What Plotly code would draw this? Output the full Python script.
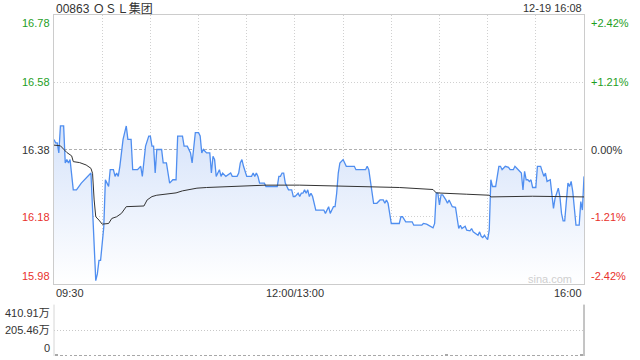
import plotly.graph_objects as go

# ---------------- data ----------------
title_text = "00863 ＯＳＬ集团"
stamp_text = "12-19 16:08"
prev_close = 16.38
price_ticks = [16.78, 16.58, 16.38, 16.18, 15.98]
pct_ticks = ["+2.42%", "+1.21%", "0.00%", "-1.21%", "-2.42%"]
time_labels = ["09:30", "12:00/13:00", "16:00"]
time_label_pos = [0, 150, 330]          # trading minutes after 09:30 (lunch removed)
vol_ticks = [4109100, 2054550, 0]
vol_tick_text = ["410.91万", "205.46万", "0"]

# price line: (trading minute, price)
price_min = [0, 1, 2, 3, 4, 6, 7, 8, 9, 10, 12, 14, 17, 21, 23, 26, 27, 28, 29, 31,
             32, 33, 34, 35, 37, 38, 39, 40, 41, 43, 45, 46, 48, 49, 52, 54, 55, 57, 59, 60,
             61, 62, 63, 64, 67, 68, 70, 72, 74, 76, 77, 80, 81, 83, 85, 86, 88, 90, 91, 92,
             93, 95, 97, 98, 99, 100, 101, 102, 103, 104, 105, 107, 110, 111, 114, 115, 116, 117, 118, 120,
             123, 124, 125, 126, 127, 128, 131, 132, 139, 140, 141, 142, 143, 144, 145, 146, 148, 149, 150, 152,
             153, 154, 155, 156, 157, 158, 159, 160, 161, 163, 168, 169, 171, 172, 173, 174, 175, 176, 177, 178,
             180, 181, 182, 187, 188, 194, 195, 196, 197, 199, 201, 203, 205, 206, 207, 208, 209, 210, 215, 216,
             217, 218, 219, 223, 224, 229, 230, 232, 234, 236, 237, 238, 239, 240, 241, 242, 244, 245, 246, 248,
             250, 251, 252, 253, 254, 256, 257, 259, 260, 261, 263, 264, 265, 266, 267, 268, 269, 270, 271, 272,
             273, 275, 276, 277, 278, 279, 280, 281, 283, 284, 286, 287, 288, 290, 291, 292, 293, 294, 295, 296,
             297, 298, 300, 301, 303, 304, 305, 306, 307, 309, 310, 311, 312, 314, 315, 316, 317, 318, 319, 320,
             321, 322, 323, 324, 325, 327, 328, 329, 330]
price_val = [16.41, 16.40, 16.40, 16.37, 16.45, 16.45, 16.34, 16.35, 16.34, 16.35, 16.26, 16.26, 16.28, 16.30, 16.31, 15.99, 16.01, 16.05, 16.05, 16.15,
             16.29, 16.28, 16.27, 16.32, 16.32, 16.30, 16.31, 16.30, 16.33, 16.41, 16.45, 16.41, 16.41, 16.32, 16.32, 16.33, 16.30, 16.39, 16.42, 16.42,
             16.39, 16.39, 16.31, 16.38, 16.38, 16.34, 16.34, 16.28, 16.29, 16.29, 16.42, 16.42, 16.39, 16.39, 16.37, 16.34, 16.43, 16.43, 16.42, 16.37,
             16.38, 16.37, 16.37, 16.31, 16.36, 16.35, 16.30, 16.31, 16.32, 16.30, 16.31, 16.30, 16.31, 16.30, 16.30, 16.31, 16.34, 16.35, 16.33, 16.30,
             16.30, 16.31, 16.30, 16.31, 16.30, 16.28, 16.28, 16.27, 16.27, 16.30, 16.30, 16.31, 16.31, 16.28, 16.27, 16.26, 16.26, 16.24, 16.24, 16.25,
             16.24, 16.25, 16.25, 16.26, 16.25, 16.26, 16.24, 16.25, 16.24, 16.20, 16.20, 16.19, 16.21, 16.19, 16.20, 16.21, 16.21, 16.25, 16.31, 16.34,
             16.35, 16.34, 16.33, 16.33, 16.32, 16.32, 16.33, 16.32, 16.29, 16.22, 16.22, 16.23, 16.23, 16.22, 16.23, 16.22, 16.19, 16.16, 16.16, 16.18,
             16.18, 16.17, 16.165, 16.165, 16.155, 16.155, 16.16, 16.158, 16.152, 16.147, 16.16, 16.25, 16.25, 16.215, 16.245, 16.245, 16.23, 16.22, 16.23, 16.21,
             16.208, 16.18, 16.145, 16.155, 16.145, 16.152, 16.14, 16.138, 16.145, 16.135, 16.13, 16.125, 16.135, 16.122, 16.118, 16.125, 16.118, 16.112, 16.14, 16.29,
             16.27, 16.27, 16.30, 16.33, 16.33, 16.32, 16.325, 16.33, 16.327, 16.32, 16.32, 16.33, 16.325, 16.315, 16.31, 16.26, 16.315, 16.29, 16.29, 16.285,
             16.29, 16.267, 16.267, 16.33, 16.33, 16.315, 16.30, 16.31, 16.285, 16.29, 16.24, 16.205, 16.235, 16.265, 16.24, 16.19, 16.168, 16.168, 16.225, 16.28,
             16.27, 16.285, 16.255, 16.20, 16.155, 16.155, 16.225, 16.20, 16.30]

# average price line: (trading minute, price)
avg_min = [0, 4, 6, 8, 11, 12, 16, 20, 23, 24, 25, 26, 28, 30, 34, 36, 39, 42, 45, 49,
           56, 58, 61, 64, 70, 76, 80, 85, 89, 95, 116, 132, 153, 174, 195, 215, 236, 238, 257, 271,
           272, 298, 330]
avg_val = [16.393, 16.391, 16.381, 16.371, 16.361, 16.344, 16.341, 16.334, 16.324, 16.309, 16.23, 16.18, 16.17, 16.158, 16.16, 16.175, 16.18, 16.19, 16.21, 16.21,
           16.212, 16.23, 16.24, 16.244, 16.247, 16.251, 16.257, 16.261, 16.265, 16.267, 16.271, 16.274, 16.274, 16.271, 16.269, 16.267, 16.261, 16.251, 16.247, 16.244,
           16.239, 16.241, 16.239]

# volume bars (one per 3 trading minutes), shares
volume = [90000, 60000, 70000, 50000, 80000, 60000, 50000, 70000, 60000, 50000,
          60000, 70000, 50000, 60000, 50000, 60000, 70000, 50000, 60000, 50000,
          60000, 50000, 70000, 60000, 50000, 60000, 50000, 60000, 70000, 50000,
          60000, 50000, 60000, 70000, 50000, 60000, 50000, 60000, 50000, 70000,
          60000, 50000, 60000, 50000, 70000, 60000, 50000, 60000, 50000, 60000,
          70000, 50000, 60000, 50000, 60000, 70000, 50000, 60000, 50000, 60000,
          50000, 70000, 60000, 50000, 60000, 50000, 70000, 60000, 50000, 60000,
          50000, 60000, 70000, 50000, 60000, 50000, 60000, 70000, 50000, 60000,
          50000, 110000, 60000, 50000, 60000, 70000, 50000, 60000, 50000, 60000,
          70000, 50000, 60000, 50000, 60000, 70000, 50000, 60000, 50000, 60000,
          70000, 50000, 60000, 50000, 60000, 70000, 50000, 60000, 70000, 90000]
vol_min = [3 * i + 1.5 for i in range(len(volume))]

# ---------------- styling ----------------
W, H = 640, 360
X0, X1 = 54, 584          # plot area in pixels
MT, MB = 15, 284          # main panel top / bottom
VT, VB = 304, 356         # volume panel top / bottom
FONT = "Liberation Sans, Arial, Noto Sans CJK SC, sans-serif"
GREEN, RED, DARK = "#1e9e1e", "#e8312c", "#333333"
label_colors = [GREEN, GREEN, DARK, RED, RED]

fig = go.Figure()

fig.add_trace(go.Scatter(
    x=price_min, y=price_val, mode="lines",
    line=dict(color="#4f8ef0", width=1.3),
    fill="tozeroy",
    fillgradient=dict(type="vertical",
                      colorscale=[[0, "rgba(255,255,255,1)"], [1, "rgba(214,227,250,1)"]],
                      start=15.98, stop=16.45),
    xaxis="x", yaxis="y", hoverinfo="skip", showlegend=False))

fig.add_trace(go.Scatter(
    x=avg_min, y=avg_val, mode="lines",
    line=dict(color="#333333", width=1),
    xaxis="x", yaxis="y", hoverinfo="skip", showlegend=False))

fig.add_trace(go.Bar(
    x=vol_min, y=volume, width=1.6, marker=dict(color="#a8a8a8", line=dict(width=0)),
    xaxis="x2", yaxis="y2", hoverinfo="skip", showlegend=False))

grid_x = list(range(30, 330, 30))
fig.update_layout(
    width=W, height=H,
    margin=dict(l=0, r=0, t=0, b=0),
    paper_bgcolor="white", plot_bgcolor="white",
    font=dict(family=FONT, size=11, color=DARK),
    bargap=0,
    xaxis=dict(domain=[X0 / W, X1 / W], range=[0, 330], anchor="y",
               tickvals=grid_x, showticklabels=False, ticks="",
               showgrid=True, gridcolor="#d0d0d0", griddash="1px,2px", gridwidth=1,
               showline=True, linecolor="#cccccc", linewidth=1, mirror=True, zeroline=False),
    yaxis=dict(domain=[1 - MB / H, 1 - MT / H], range=[15.98, 16.78], anchor="x",
               tickvals=[16.58, 16.18], showticklabels=False, ticks="",
               showgrid=True, gridcolor="#d0d0d0", griddash="1px,2px", gridwidth=1,
               showline=True, linecolor="#cccccc", linewidth=1, mirror=True, zeroline=False),
    xaxis2=dict(domain=[X0 / W, X1 / W], range=[0, 330], anchor="y2",
                showticklabels=False, ticks="", showgrid=False, showline=False, zeroline=False),
    yaxis2=dict(domain=[1 - VB / H, 1 - VT / H], range=[0, vol_ticks[0] * 1.012], anchor="x2",
                tickvals=vol_ticks[:2], showticklabels=False, ticks="",
                showgrid=True, gridcolor="#c8c8c8", griddash="1px,2px", gridwidth=1,
                showline=False, zeroline=False),
)

shapes = [
    dict(type="line", xref="x", yref="y", x0=0, x1=330, y0=prev_close, y1=prev_close,
         line=dict(color="#b0b0b0", width=1, dash="3px,2px"), layer="below"),
    dict(type="line", xref="paper", yref="y2", x0=X1 / W, x1=X1 / W, y0=0, y1=vol_ticks[0],
         line=dict(color="#8a8a8a", width=1)),
    dict(type="line", xref="paper", yref="y2", x0=X0 / W, x1=X0 / W, y0=0, y1=vol_ticks[0],
         line=dict(color="#d6d6d6", width=1)),
]
fig.update_layout(shapes=shapes)

ann = []
n = len(price_ticks)
for i, (p, pc, c) in enumerate(zip(price_ticks, pct_ticks, label_colors)):
    ya = "top" if i == 0 else ("bottom" if i == n - 1 else "middle")
    ann.append(dict(xref="paper", yref="y", x=(X0 - 2) / W, y=p, text=f"{p:.2f}",
                    xanchor="right", yanchor=ya, showarrow=False,
                    font=dict(size=11, color=c, family=FONT)))
    ann.append(dict(xref="paper", yref="y", x=(X1 + 5) / W, y=p, text=pc,
                    xanchor="left", yanchor=ya, showarrow=False,
                    font=dict(size=11, color=c, family=FONT)))

x_anchors = ["left", "center", "right"]
for t, pos, xa in zip(time_labels, time_label_pos, x_anchors):
    ann.append(dict(xref="x", yref="paper", x=pos, y=1 - 293 / H, text=t,
                    xanchor=xa, yanchor="middle", showarrow=False,
                    font=dict(size=11, color=DARK, family=FONT)))

for i, (v, vt) in enumerate(zip(vol_ticks, vol_tick_text)):
    ya = "top" if i == 0 else ("bottom" if i == len(vol_ticks) - 1 else "middle")
    ann.append(dict(xref="paper", yref="y2", x=(X0 - 2) / W, y=v, text=vt,
                    xanchor="right", yanchor=ya, showarrow=False,
                    font=dict(size=11, color=DARK, family=FONT)))

ann.append(dict(xref="paper", yref="paper", x=X0 / W, y=1 - 8 / H, text=title_text,
                xanchor="left", yanchor="middle", showarrow=False,
                font=dict(size=12, color=DARK, family=FONT)))
ann.append(dict(xref="paper", yref="paper", x=X1 / W, y=1 - 8 / H, text=stamp_text,
                xanchor="right", yanchor="middle", showarrow=False,
                font=dict(size=11, color=DARK, family=FONT)))
ann.append(dict(xref="paper", yref="paper", x=(X1 - 10) / W, y=1 - 279 / H, text="sina.com",
                xanchor="right", yanchor="middle", showarrow=False,
                font=dict(size=11, color="#cfcfcf", family=FONT)))
fig.update_layout(annotations=ann)

fig.write_html("out.html")
